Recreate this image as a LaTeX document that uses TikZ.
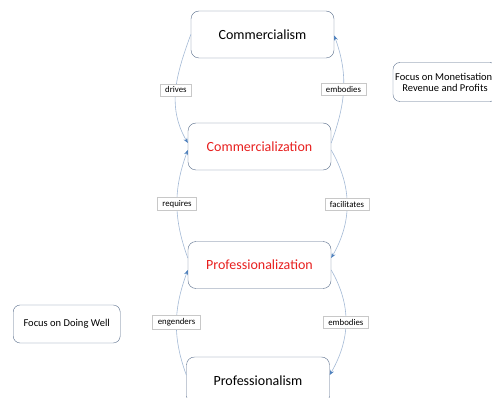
\documentclass[tikz,border=0pt]{standalone}
\usepackage{fontspec}
\setmainfont{Carlito}
\usetikzlibrary{positioning,arrows.meta}
\definecolor{boxline}{HTML}{5A6E8C}
\definecolor{linkline}{HTML}{A3B9D5}
\definecolor{tipblue}{HTML}{4F81BD}
\definecolor{labelline}{HTML}{C8C8C8}
\definecolor{conceptred}{HTML}{E8201F}
\tikzset{concept/.style={draw=boxline,rounded corners=8pt,minimum width=143pt,minimum height=47pt,font=\fontsize{14}{16}\selectfont,fill=white},
  focus/.style={draw=boxline,rounded corners=7pt,align=center,font=\fontsize{10.5}{11}\selectfont,minimum height=39pt},
  link/.style={draw=linkline,semithick,-{Stealth[length=5pt,width=4pt,color=tipblue]}},
  tag/.style={draw=labelline,fill=white,font=\fontsize{8.8}{10}\selectfont,inner xsep=5pt,inner ysep=3pt}}

\begin{document}
\begin{tikzpicture}[x=1pt,y=-1pt]
                \useasboundingbox (0,0) rectangle (492,398);
                % the four concepts
                \node[concept] (cism) at (262.5,34.5) {Commercialism};
                \node[concept,text=conceptred] (cization) at (259.5,146.5) {Commercialization};
                \node[concept,text=conceptred] (pization) at (259.5,265) {Professionalization};
                \node[concept] (pism) at (258,380.5) {Professionalism};
                % side notes
                \node[focus,minimum width=104pt,inner xsep=2pt] (money) at (445,82) {Focus on Monetisation,\\Revenue and Profits};
                \node[focus,minimum width=107pt,minimum height=38pt] (doing) at (66.7,324) {Focus on Doing Well};
                % links
                \draw[link] (cism.west) to[out=250,in=120] node[tag] {drives} ([yshift=3.5pt]cization.west);
                \draw[link] ([yshift=7pt]pization.west) to[out=110,in=250] node[tag] {requires} ([yshift=-3.5pt]cization.west);
                \draw[link] ([yshift=5.5pt]pism.west) to[out=110,in=250] node[tag] {engenders} ([yshift=-5pt]pization.west);
                \draw[link] ([yshift=3.5pt]cization.east) to[out=70,in=-70] node[tag] {embodies} ([yshift=-1pt]cism.east);
                \draw[link] ([yshift=-3.5pt]cization.east) to[out=-60,in=60] node[tag] {facilitates} ([yshift=7pt]pization.east);
                \draw[link] ([yshift=-5pt]pization.east) to[out=-60,in=60] node[tag] {embodies} ([yshift=5.5pt]pism.east);
\end{tikzpicture}
\end{document}
